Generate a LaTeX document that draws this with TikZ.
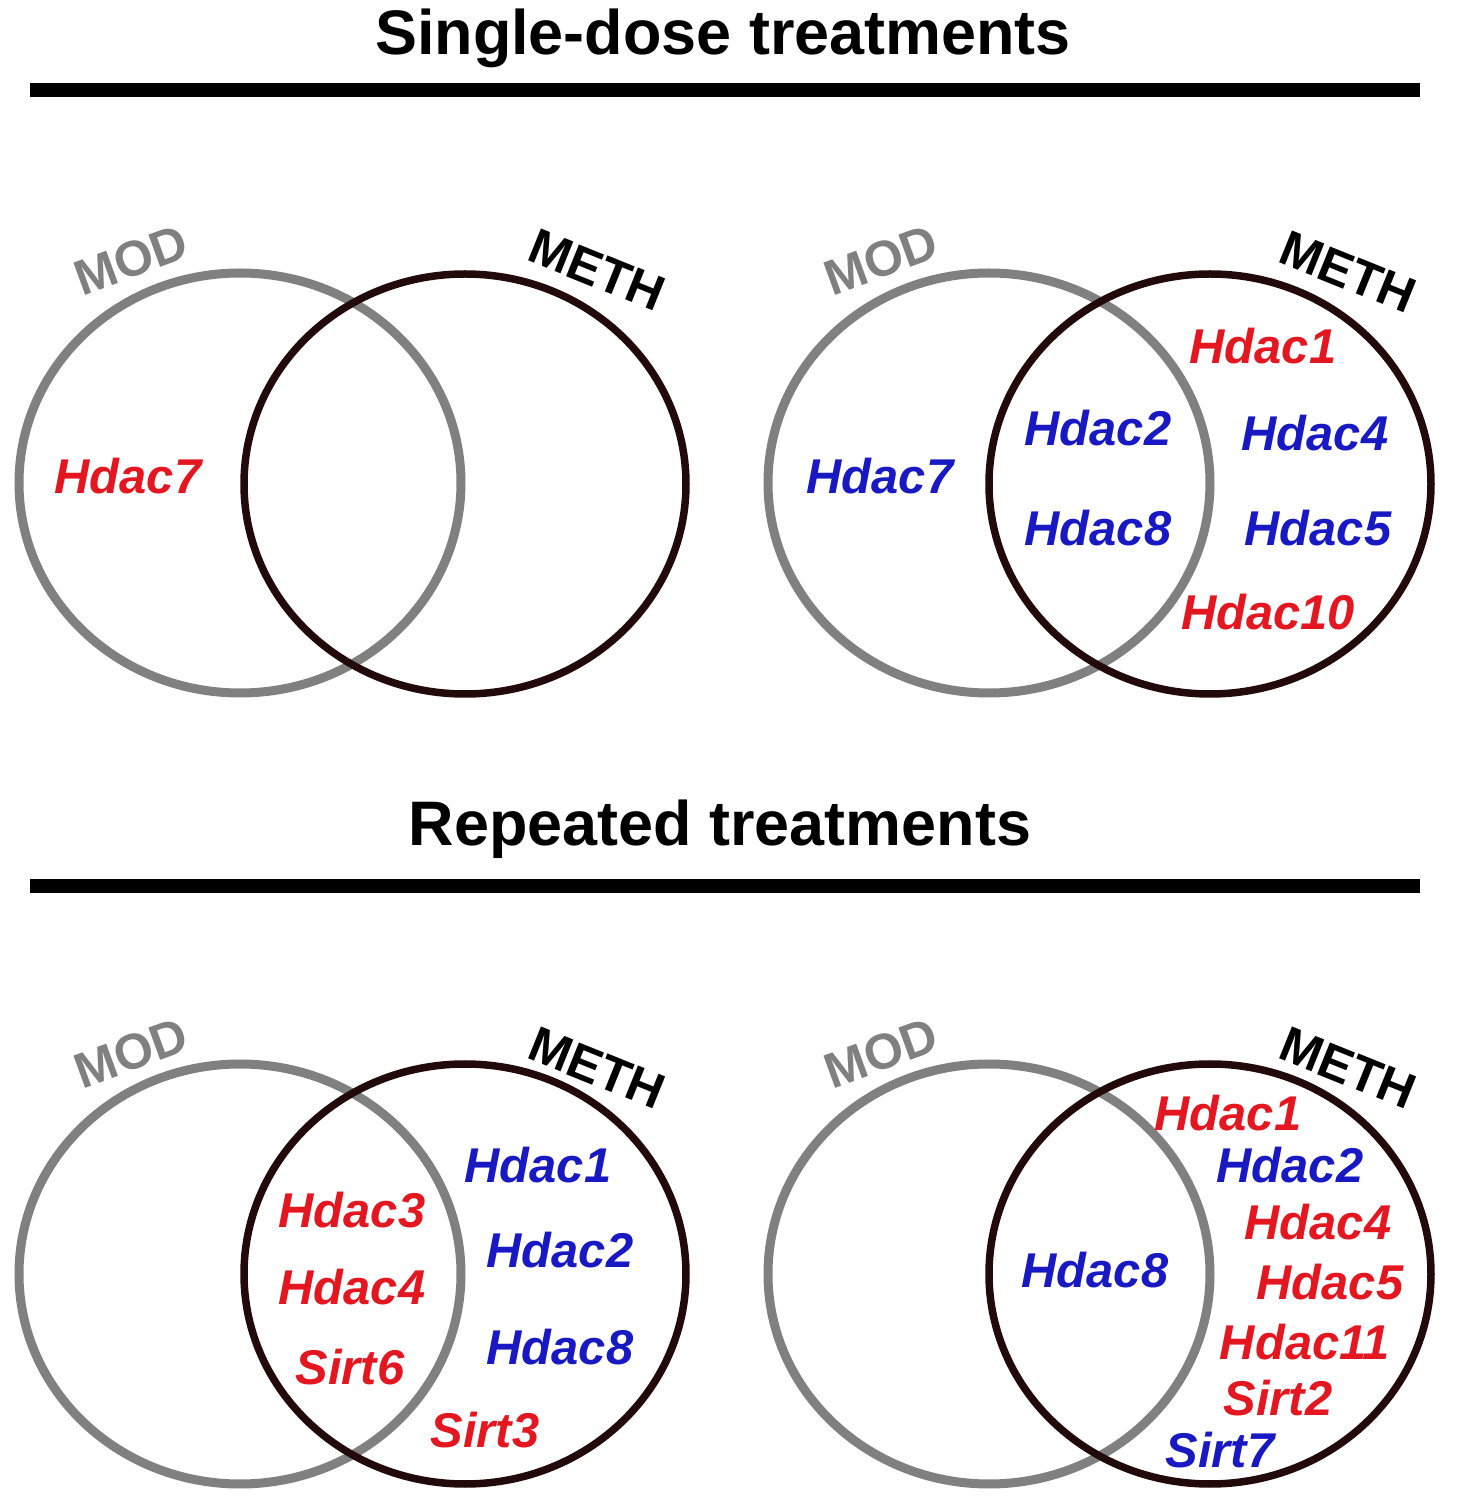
\documentclass[tikz,border=0pt]{standalone}
\usepackage{fontspec}
\setmainfont{Liberation Sans}
\usepackage{tikz}
\usetikzlibrary{shapes.geometric,positioning}
\definecolor{genered}{RGB}{228,22,32}
\definecolor{geneblue}{RGB}{25,25,195}
\definecolor{modgrey}{RGB}{128,128,128}
\definecolor{methblack}{RGB}{35,10,10}

\begin{document}
\begin{tikzpicture}[
    vset/.style={draw, ellipse, minimum width=4.42cm, minimum height=4.2cm, inner sep=0},
    modset/.style={vset, draw=modgrey, line width=0.9mm},
    methset/.style={vset, draw=methblack, line width=0.75mm},
    setlabel/.style={font=\fontsize{14.2}{16}\selectfont\bfseries, inner sep=0},
    gene/.style={font=\fontsize{13.9}{16}\selectfont\bfseries\itshape, inner sep=0},
    upgene/.style={gene, text=genered},
    downgene/.style={gene, text=geneblue},
    heading/.style={font=\fontsize{17.9}{20}\selectfont\bfseries, anchor=base, inner sep=0}
]
\useasboundingbox (0,0) rectangle (14.62,15);

% Single-dose header
\node[heading] (title1) at (7.23,14.45) {Single-dose treatments};
\coordinate (bar1a) at (0.30,14.10);
\coordinate (bar1b) at (14.20,14.10);
\draw[line width=1.4mm] (bar1a) -- (bar1b);

% Single-dose, left pair
\node[modset] (modA) at (2.40,10.17) {};
\node[methset] (methA) at (4.65,10.16) {};
\node[setlabel, text=modgrey, rotate=20] (modAlbl) at (1.31,12.40) {MOD};
\node[setlabel, rotate=-22] (methAlbl) at (5.97,12.30) {METH};
\node[upgene] (a7) at (1.28,10.24) {Hdac7};

% Single-dose, right pair
\node[modset] (modB) at (9.89,10.17) {};
\node[methset] (methB) at (12.10,10.16) {};
\node[setlabel, text=modgrey, rotate=20] (modBlbl) at (8.81,12.40) {MOD};
\node[setlabel, rotate=-22] (methBlbl) at (13.48,12.28) {METH};
\node[downgene] (b7) at (8.80,10.24) {Hdac7};
\node[downgene] (b2) at (10.98,10.72) {Hdac2};
\node[downgene] (b8) at (10.98,9.72) {Hdac8};
\node[upgene] (b1) at (12.63,11.54) {Hdac1};
\node[downgene] (b4) at (13.15,10.67) {Hdac4};
\node[downgene] (b5) at (13.18,9.72) {Hdac5};
\node[upgene] (b10) at (12.68,8.88) {Hdac10};

% Repeated header
\node[heading] (title2) at (7.20,6.54) {Repeated treatments};
\coordinate (bar2a) at (0.30,6.14);
\coordinate (bar2b) at (14.20,6.14);
\draw[line width=1.4mm] (bar2a) -- (bar2b);

% Repeated, left pair
\node[modset] (modC) at (2.40,2.26) {};
\node[methset] (methC) at (4.65,2.26) {};
\node[setlabel, text=modgrey, rotate=20] (modClbl) at (1.31,4.47) {MOD};
\node[setlabel, rotate=-22] (methClbl) at (5.97,4.32) {METH};
\node[upgene] (c3) at (3.52,2.90) {Hdac3};
\node[upgene] (c4) at (3.52,2.13) {Hdac4};
\node[upgene] (c6) at (3.50,1.33) {Sirt6};
\node[downgene] (c1) at (5.38,3.35) {Hdac1};
\node[downgene] (c2) at (5.60,2.50) {Hdac2};
\node[downgene] (c8) at (5.60,1.53) {Hdac8};
\node[upgene] (cs3) at (4.85,0.70) {Sirt3};

% Repeated, right pair
\node[modset] (modD) at (9.89,2.26) {};
\node[methset] (methD) at (12.10,2.26) {};
\node[setlabel, text=modgrey, rotate=20] (modDlbl) at (8.81,4.47) {MOD};
\node[setlabel, rotate=-22] (methDlbl) at (13.48,4.32) {METH};
\node[downgene] (d8) at (10.95,2.30) {Hdac8};
\node[upgene] (d1) at (12.28,3.87) {Hdac1};
\node[downgene] (d2) at (12.90,3.35) {Hdac2};
\node[upgene] (d4) at (13.18,2.78) {Hdac4};
\node[upgene] (d5) at (13.30,2.18) {Hdac5};
\node[upgene] (d11) at (13.05,1.58) {Hdac11};
\node[upgene] (ds2) at (12.78,1.02) {Sirt2};
\node[downgene] (ds7) at (12.20,0.50) {Sirt7};

\end{tikzpicture}
\end{document}
